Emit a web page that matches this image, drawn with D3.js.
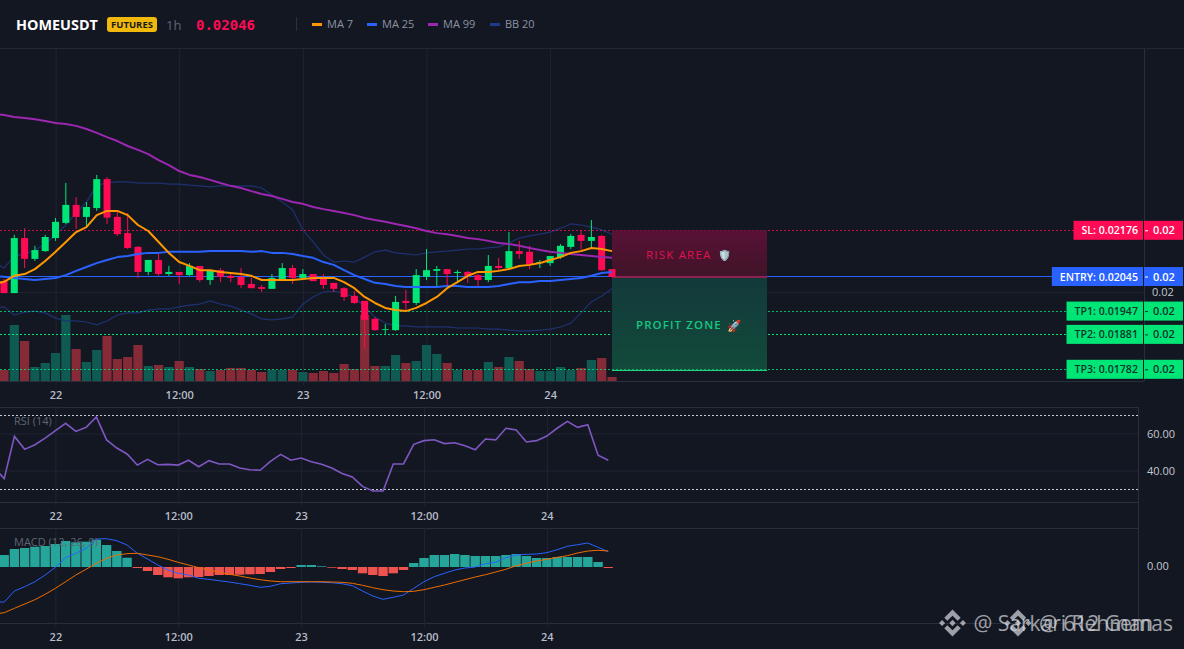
<!DOCTYPE html>
<html>
<head>
<meta charset="utf-8">
<script src="https://cdn.jsdelivr.net/npm/d3@7"></script>
<style>
html, body { margin: 0; padding: 0; background: #131722; overflow: hidden; }
svg { display: block; }
text { font-family: "Open Sans", "Noto Sans", sans-serif; }
</style>
</head>
<body>
<div id="chart"></div>
<script>
// candles, one per hour
var opens = [0.02032,0.01998,0.02154,0.02095,0.02117,0.02154,0.02197,0.02248,0.02214,0.02239,
0.02321,0.02214,0.02168,0.02129,0.02058,0.02092,0.02052,0.02058,0.02049,0.02075,
0.02035,0.02063,0.02047,0.02044,0.02024,0.02015,0.02010,0.02038,0.02069,0.02041,
0.02052,0.02038,0.02027,0.02012,0.01990,0.01976,0.01925,0.01895,0.01893,0.01976,
0.01970,0.02044,0.02061,0.02066,0.02055,0.02058,0.02049,0.02035,0.02075,0.02069,
0.02117,0.02115,0.02083,0.02083,0.02100,0.02129,0.02163,0.02146,0.02160,0.02066];
var closes = [0.01998,0.02154,0.02095,0.02120,0.02157,0.02200,0.02248,0.02214,0.02242,0.02321,
0.02212,0.02165,0.02126,0.02058,0.02092,0.02052,0.02058,0.02049,0.02075,0.02035,
0.02061,0.02044,0.02041,0.02021,0.02012,0.02010,0.02041,0.02069,0.02041,0.02052,
0.02032,0.02021,0.02010,0.01987,0.01970,0.01922,0.01893,0.01896,0.01973,0.01970,
0.02049,0.02063,0.02066,0.02052,0.02058,0.02047,0.02035,0.02075,0.02069,0.02117,
0.02109,0.02080,0.02086,0.02103,0.02132,0.02160,0.02146,0.02157,0.02063,0.02044];
var highs = [0.02038,0.02163,0.02182,0.02132,0.02163,0.02211,0.02310,0.02270,0.02256,0.02333,
0.02327,0.02228,0.02225,0.02132,0.02092,0.02109,0.02075,0.02058,0.02083,0.02075,
0.02063,0.02069,0.02055,0.02069,0.02041,0.02021,0.02052,0.02083,0.02078,0.02066,
0.02052,0.02052,0.02027,0.02015,0.02004,0.01976,0.01930,0.01910,0.01990,0.02007,
0.02066,0.02123,0.02075,0.02066,0.02063,0.02061,0.02052,0.02106,0.02098,0.02171,
0.02146,0.02132,0.02092,0.02103,0.02137,0.02165,0.02177,0.02205,0.02163,0.02066];
var lows = [0.01998,0.01998,0.02069,0.02089,0.02115,0.02146,0.02194,0.02180,0.02188,0.02231,
0.02194,0.02160,0.02123,0.02041,0.02049,0.02047,0.02047,0.02024,0.02047,0.02029,
0.02021,0.02029,0.02029,0.02012,0.02012,0.02001,0.02010,0.02038,0.02024,0.02038,
0.02032,0.02010,0.02001,0.01976,0.01967,0.01842,0.01891,0.01879,0.01891,0.01950,
0.01964,0.02035,0.02015,0.02015,0.02027,0.02027,0.02018,0.02029,0.02061,0.02066,
0.02095,0.02066,0.02069,0.02075,0.02095,0.02123,0.02120,0.02126,0.02061,0.02044];
// volume in thousands
var volumes = [11,56,40,14,18,28,66,32,19,31,45,22,24,36,15,16,14,20,14,12,
10,11,13,13,11,9,11,11,11,9,8,10,8,17,12,66,15,15,26,18,
20,36,27,18,11,11,11,19,14,24,20,12,10,10,14,11,13,21,23,4];

// the indicator lists start one hour before the first candle, so they run off the left edge
var ma7 = [0.02024,0.02030,0.02047,0.02052,0.02066,0.02089,0.02115,0.02143,0.02171,0.02185,0.02219,
0.02231,0.02231,0.02219,0.02191,0.02174,0.02143,0.02112,0.02086,0.02075,0.02063,
0.02063,0.02058,0.02055,0.02052,0.02047,0.02035,0.02035,0.02035,0.02035,0.02038,
0.02041,0.02041,0.02041,0.02029,0.02012,0.01987,0.01970,0.01956,0.01950,0.01947,
0.01956,0.01970,0.01987,0.02012,0.02029,0.02047,0.02058,0.02058,0.02061,0.02066,
0.02075,0.02078,0.02083,0.02092,0.02100,0.02112,0.02117,0.02126,0.02123,0.02117];
var ma25 = [0.02047,0.02044,0.02041,0.02038,0.02035,0.02038,0.02041,0.02049,0.02061,0.02072,0.02083,
0.02092,0.02100,0.02103,0.02109,0.02112,0.02112,0.02115,0.02115,0.02115,0.02115,
0.02117,0.02117,0.02117,0.02117,0.02115,0.02117,0.02112,0.02112,0.02109,0.02103,
0.02098,0.02086,0.02078,0.02063,0.02049,0.02038,0.02027,0.02024,0.02018,0.02015,
0.02015,0.02015,0.02015,0.02018,0.02018,0.02015,0.02015,0.02015,0.02018,0.02024,
0.02029,0.02029,0.02032,0.02032,0.02035,0.02038,0.02041,0.02047,0.02055,0.02058];
var ma99 = [0.02506,0.02503,0.02497,0.02494,0.02491,0.02486,0.02480,0.02477,0.02472,0.02463,0.02452,
0.02440,0.02429,0.02415,0.02404,0.02392,0.02375,0.02361,0.02344,0.02333,0.02327,
0.02319,0.02310,0.02302,0.02296,0.02287,0.02279,0.02273,0.02265,0.02256,0.02251,
0.02242,0.02236,0.02231,0.02225,0.02219,0.02211,0.02205,0.02200,0.02194,0.02188,
0.02182,0.02174,0.02168,0.02165,0.02160,0.02154,0.02151,0.02146,0.02140,0.02137,
0.02132,0.02126,0.02120,0.02115,0.02112,0.02109,0.02106,0.02103,0.02100,0.02098];
var bbUpper = [0.02086,0.02069,0.02103,0.02109,0.02120,0.02137,0.02163,0.02191,0.02225,0.02256,0.02304,
0.02310,0.02313,0.02313,0.02310,0.02310,0.02310,0.02307,0.02307,0.02304,0.02302,
0.02299,0.02302,0.02302,0.02302,0.02302,0.02296,0.02276,0.02256,0.02234,0.02177,
0.02143,0.02106,0.02086,0.02089,0.02086,0.02100,0.02115,0.02120,0.02112,0.02109,
0.02106,0.02112,0.02115,0.02117,0.02120,0.02123,0.02123,0.02126,0.02129,0.02140,
0.02154,0.02160,0.02165,0.02171,0.02182,0.02194,0.02191,0.02185,0.02177,0.02165];
var bbLower = [0.01956,0.01959,0.01936,0.01944,0.01947,0.01942,0.01927,0.01919,0.01919,0.01916,0.01908,
0.01919,0.01936,0.01942,0.01942,0.01950,0.01953,0.01953,0.01959,0.01964,0.01967,
0.01976,0.01967,0.01961,0.01950,0.01939,0.01925,0.01922,0.01925,0.01930,0.01967,
0.01987,0.02001,0.02004,0.01998,0.01987,0.01959,0.01930,0.01913,0.01905,0.01905,
0.01902,0.01902,0.01902,0.01902,0.01899,0.01899,0.01899,0.01896,0.01896,0.01893,
0.01891,0.01891,0.01893,0.01896,0.01902,0.01913,0.01942,0.01973,0.01990,0.02010];

var rsi = [42,35.9,58.7,51.7,54.2,57.8,61.8,65.8,61.4,63.6,69.2,56.8,52.4,49.2,43.2,46.3,43.4,43.6,43.2,45.8,42.3,
45.6,43.8,43.8,41.6,40.7,40.4,45.2,49.0,45.8,47.0,45.0,43.6,41.6,38.7,36.8,31.7,29.2,29.2,43.8,43.8,
54.4,56.4,56.9,54.8,55.3,53.7,51.5,57.3,56.8,63.1,62.2,55.7,56.4,58.9,63.1,66.8,63.6,65.0,48.5,45.8];

// macd values in 1e-5 of price
var macdHist = [12,18,19,20.3,21,23,26,24.7,25.3,27.3,22,16,9.3,-1,-4,-8,-10.3,-11.3,-10.3,-10,
-9,-8,-8,-7.7,-7.3,-7,-5,-2,-1,2,2,0.7,-0.7,-2,-3,-6.3,-8,-9,-6.3,-3,
4,9,12,12,13,12,11,11,11,12,13,11,9,9,10,10,10,10,5,-1];
var macdLine = [-35,-35,-24,-19.7,-14.7,-8,-0.3,9.3,13.7,18.7,28,28.3,26.3,22,13.7,8,2,-3,-6.3,-8,-11.3,
-12.3,-13.7,-15,-16.7,-18.3,-20.3,-19.3,-16.7,-16,-15.3,-15,-15.3,-15.7,-16.7,-18.7,-24,-29,-32.3,-30.3,-28,
-21.3,-14.7,-9.7,-6.3,-3,-1,0,3.3,4.7,9.3,12,12.7,13,14.3,17.3,20.7,22.3,24,19.7,15.3];
var macdSignal = [-47,-45.7,-41.3,-37,-32.7,-27.3,-21.3,-14.7,-8,-2.3,3.7,8.7,12,13.3,13.7,12,10.3,7.7,4.7,2,-0.7,
-3,-5.3,-7.3,-9,-11,-12.7,-14,-14.7,-14.7,-14.7,-14.7,-14.7,-15,-15.3,-16.3,-18.3,-20.7,-22.7,-24,-24.7,
-24.3,-22.7,-20.3,-18,-15.3,-12.7,-10,-7.7,-5,-2.3,1.3,3.7,6,7.7,9.7,11.3,14,16,16.7,16];

var timeTicks = [5,17,29,41,53];
var timeLabels = ["22","12:00","23","12:00","24"];
var levelNames = ["SL","ENTRY","TP1","TP2","TP3"];
var levelPrices = [0.02176,0.02045,0.01947,0.01881,0.01782];
var legendNames = ["MA 7","MA 25","MA 99","BB 20"];

var width = 1184, height = 649;
var red = "#ff0a54", green = "#00e676", blue = "#2962ff", gridColor = "#212531";
var idx = d3.range(opens.length);

var svg = d3.select("#chart").append("svg")
  .attr("width", width)
  .attr("height", height);

var defs = svg.append("defs");
function gradient(id, top, bottom) {
  var g = defs.append("linearGradient").attr("id", id).attr("x1", 0).attr("x2", 0).attr("y1", 0).attr("y2", 1);
  g.append("stop").attr("offset", "0%").attr("stop-color", top);
  g.append("stop").attr("offset", "100%").attr("stop-color", bottom);
}
gradient("riskFill", "#5a1135", "#3f1428");
gradient("profitFill", "#13393a", "#124a3b");

// scales
var xMain = d3.scaleLinear().domain([0, 59]).range([4, 612]);
var xLow = d3.scaleLinear().domain([0, 59]).range([4.2, 608.3]);
var yPrice = d3.scaleLinear().domain([0.02176, 0.01782]).range([230.3, 369.3]);
var yVol = d3.scaleLinear().domain([0, 66]).range([381, 315]);
var yRsi = d3.scaleLinear().domain([40, 60]).range([471, 434]);
var yMacd = d3.scaleLinear().domain([0, 39]).range([567, 528]);

// header
svg.append("line").attr("x1", 0).attr("x2", width).attr("y1", 48.5).attr("y2", 48.5).attr("stroke", "#23272f");
svg.append("text").attr("x", 16).attr("y", 29.5).text("HOMEUSDT")
  .attr("fill", "#fff").style("font-size", "14.4px").style("font-weight", 700);
svg.append("rect").attr("x", 107).attr("y", 17).attr("width", 50).attr("height", 15).attr("rx", 3).attr("fill", "#f0b90b");
svg.append("text").attr("x", 132).attr("y", 28).text("FUTURES").attr("text-anchor", "middle")
  .attr("fill", "#1a1a1a").style("font-size", "9.5px").style("font-weight", 700);
svg.append("text").attr("x", 166).attr("y", 29.5).text("1h").attr("fill", "#5b6678").style("font-size", "13px");
svg.append("text").attr("x", 196).attr("y", 29.5).text("0.02046").attr("fill", red)
  .style("font-family", "'DejaVu Sans Mono'").style("font-size", "14px").style("font-weight", 700);
svg.append("line").attr("x1", 296.5).attr("x2", 296.5).attr("y1", 17).attr("y2", 31).attr("stroke", "#2b3039");

var legendColors = ["#ff9800", blue, "#9c27b0", "#1e3a8a"];
var legendX = [312, 367, 428, 490];
legendNames.forEach(function(name, i) {
  svg.append("rect").attr("x", legendX[i]).attr("y", 23).attr("width", 10).attr("height", 3).attr("fill", legendColors[i]);
  svg.append("text").attr("x", legendX[i] + 15).attr("y", 28).text(name)
    .attr("fill", "#8b93a5").style("font-size", "11px");
});

// pane frames
[[381.5, 1144], [407.5, 1138], [502.5, 1138], [528.5, 1138], [623.5, 1138]].forEach(function(d) {
  svg.append("line").attr("x1", 0).attr("x2", d[1]).attr("y1", d[0]).attr("y2", d[0]).attr("stroke", "#2a2e39");
});
svg.append("line").attr("x1", 1144.5).attr("x2", 1144.5).attr("y1", 49).attr("y2", 381).attr("stroke", "#2a2e39");
svg.append("line").attr("x1", 1138.5).attr("x2", 1138.5).attr("y1", 407).attr("y2", 624).attr("stroke", "#2a2e39");

function timeAxis(scale, y, gridTop) {
  var g = svg.append("g")
    .attr("transform", "translate(0," + y + ")")
    .call(d3.axisBottom(scale).tickValues(timeTicks).tickFormat(function(d, i) { return timeLabels[i]; }).tickSize(gridTop - y + 4).tickPadding(8));
  g.select(".domain").remove();
  g.selectAll("line").attr("y1", gridTop - y).attr("y2", 4).attr("stroke", gridColor);
  g.selectAll("text").attr("y", 14).attr("dy", "0.35em").attr("fill", "#b7bcc7")
    .style("font-size", "11px").style("font-weight", 600);
}
timeAxis(xMain, 381, 49);
timeAxis(xLow, 502, 407);
timeAxis(xLow, 623, 528);

// main pane
svg.append("line").attr("x1", 0).attr("x2", 1144).attr("y1", yPrice(0.02)).attr("y2", yPrice(0.02)).attr("stroke", gridColor);
svg.append("text").attr("x", 1152).attr("y", yPrice(0.02) + 4).text("0.02").attr("fill", "#c3c7cf").style("font-size", "11px");

svg.append("g").selectAll("rect").data(idx).join("rect")
  .attr("x", function(i) { return xMain(i) - 4.6; })
  .attr("width", 9.2)
  .attr("y", function(i) { return yVol(volumes[i]); })
  .attr("height", function(i) { return yVol(0) - yVol(volumes[i]); })
  .attr("fill", function(i) { return closes[i] >= opens[i] ? "#0f5a52" : "#862a37"; });

function priceLine(values, color, w) {
  var line = d3.line().x(function(d, i) { return xMain(i - 1); }).y(function(d) { return yPrice(d); });
  svg.append("path").datum(values).attr("d", line).attr("fill", "none")
    .attr("stroke", color).attr("stroke-width", w).attr("stroke-linejoin", "round");
}
priceLine(bbUpper, "#1e3272", 1.2);
priceLine(bbLower, "#1e3272", 1.2);

// level lines
levelNames.forEach(function(name, i) {
  var l = svg.append("line").attr("x1", 0).attr("x2", 1080);
  if (name == "ENTRY") {
    var yE = Math.floor(yPrice(levelPrices[i])) + 0.5;
    l.attr("y1", yE).attr("y2", yE).attr("stroke", blue).attr("stroke-width", 1);
  } else {
    var y = Math.round(yPrice(levelPrices[i])) + 0.5;
    l.attr("y1", y).attr("y2", y).attr("stroke", name == "SL" ? red : "#00e676").attr("stroke-dasharray", "2,2")
      .attr("stroke-width", 1).attr("opacity", name == "TP2" ? 1 : 0.8);
  }
});

// risk and profit boxes
var yEntry = yPrice(levelPrices[1]);
svg.append("rect").attr("x", 612).attr("width", 155).attr("y", yPrice(levelPrices[0])).attr("height", yEntry - yPrice(levelPrices[0]))
  .attr("fill", "url(#riskFill)");
svg.append("rect").attr("x", 612).attr("width", 155).attr("y", yEntry).attr("height", yPrice(levelPrices[4]) - yEntry)
  .attr("fill", "url(#profitFill)");
svg.append("line").attr("x1", 612).attr("x2", 767).attr("y1", yEntry + 0.5).attr("y2", yEntry + 0.5).attr("stroke", red);
svg.append("line").attr("x1", 612).attr("x2", 767).attr("y1", yPrice(levelPrices[4]) + 1).attr("y2", yPrice(levelPrices[4]) + 1)
  .attr("stroke", "#1fd37f").attr("stroke-width", 1.2);
svg.append("text").attr("x", 646).attr("y", 259).text("RISK AREA").attr("fill", "#e0124f")
  .style("font-size", "11.5px").style("letter-spacing", "1.2px");
svg.append("text").attr("x", 718).attr("y", 259).text("\u{1F6E1}\uFE0F").attr("fill", "#4a9be8").style("font-size", "10.5px");
svg.append("text").attr("x", 636).attr("y", 329).text("PROFIT ZONE").attr("fill", "#16c784")
  .style("font-size", "11.5px").style("font-weight", 600).style("letter-spacing", "1.1px");
svg.append("text").attr("x", 727).attr("y", 329.5).text("\u{1F680}").attr("fill", "#e0e0e0").style("font-size", "11.5px");

// candles
var candles = svg.append("g").selectAll("g").data(idx).join("g")
  .attr("fill", function(i) { return closes[i] >= opens[i] ? green : red; })
  .attr("stroke", function(i) { return closes[i] >= opens[i] ? green : red; });
candles.append("line")
  .attr("x1", function(i) { return xMain(i); })
  .attr("x2", function(i) { return xMain(i); })
  .attr("y1", function(i) { return yPrice(highs[i]); })
  .attr("y2", function(i) { return yPrice(lows[i]); })
  .attr("stroke-width", 1);
candles.append("rect")
  .attr("x", function(i) { return xMain(i) - 3.5; })
  .attr("width", 7)
  .attr("y", function(i) { return yPrice(Math.max(opens[i], closes[i])); })
  .attr("height", function(i) { return Math.max(0.8, Math.abs(yPrice(opens[i]) - yPrice(closes[i]))); })
  .attr("stroke", "none");

priceLine(ma99, "#9c27b0", 2);
priceLine(ma25, blue, 2);
priceLine(ma7, "#ff9800", 2);

// level tags on the price axis
levelNames.forEach(function(name, i) {
  var y = yPrice(levelPrices[i]);
  var bg = name == "SL" ? red : (name == "ENTRY" ? blue : green);
  var fg = (name == "SL" || name == "ENTRY") ? "#fff" : "#10332a";
  var t = svg.append("text").attr("x", 1138).attr("y", y + 4)
    .attr("text-anchor", "end").attr("fill", fg).style("font-size", "10.6px").style("font-weight", 600)
    .text(name + ": " + levelPrices[i].toFixed(5));
  var w = t.node().getComputedTextLength();
  svg.insert("rect", function() { return t.node(); })
    .attr("x", 1143 - w - 13).attr("width", w + 13).attr("y", y - 9.5).attr("height", 19).attr("fill", bg);
  svg.insert("rect", function() { return t.node(); })
    .attr("x", 1144).attr("width", 39).attr("y", y - 9.5).attr("height", 19).attr("fill", bg);
  svg.append("line").attr("x1", 1145).attr("x2", 1148).attr("y1", y + 0.5).attr("y2", y + 0.5).attr("stroke", fg);
  svg.append("text").attr("x", 1153).attr("y", y + 4).attr("fill", fg).style("font-size", "11px").style("font-weight", 600).text("0.02");
});

// rsi pane
var rsiAxis = svg.append("g").attr("transform", "translate(1138,0)")
  .call(d3.axisRight(yRsi).tickValues([40, 60]).tickFormat(d3.format(".2f")).tickSize(0).tickPadding(9));
rsiAxis.select(".domain").remove();
rsiAxis.selectAll("text").attr("fill", "#c3c7cf").style("font-size", "11px");
[40, 60].forEach(function(v) {
  svg.append("line").attr("x1", 0).attr("x2", 1138).attr("y1", yRsi(v)).attr("y2", yRsi(v)).attr("stroke", gridColor);
});
[30, 70].forEach(function(v) {
  svg.append("line").attr("x1", 0).attr("x2", 1138).attr("y1", yRsi(v)).attr("y2", yRsi(v))
    .attr("stroke", "#c9ccd3").attr("stroke-dasharray", "2,2");
});
svg.append("path").datum(rsi)
  .attr("d", d3.line().x(function(d, i) { return xLow(i - 1); }).y(function(d) { return yRsi(d); }))
  .attr("fill", "none").attr("stroke", "#7e57c2").attr("stroke-width", 1.6);
svg.append("text").attr("x", 14).attr("y", 425).text("RSI (14)").attr("fill", "#5f6572").style("font-size", "11px");

// macd pane
var macdAxis = svg.append("g").attr("transform", "translate(1138,-1)")
  .call(d3.axisRight(yMacd).tickValues([0]).tickFormat(function() { return "0.00"; }).tickSize(0).tickPadding(9));
macdAxis.select(".domain").remove();
macdAxis.selectAll("text").attr("fill", "#c3c7cf").style("font-size", "11px");
svg.append("g").selectAll("rect").data(idx).join("rect")
  .attr("x", function(i) { return xLow(i) - 4.7; })
  .attr("width", 9.4)
  .attr("y", function(i) { return yMacd(Math.max(0, macdHist[i])); })
  .attr("height", function(i) { return Math.abs(yMacd(macdHist[i]) - yMacd(0)); })
  .attr("fill", function(i) { return macdHist[i] >= 0 ? "#26a69a" : "#ef5350"; });
var macdPath = d3.line().x(function(d, i) { return xLow(i - 1); }).y(function(d) { return yMacd(d); });
svg.append("path").datum(macdLine).attr("d", macdPath).attr("fill", "none").attr("stroke", blue).attr("stroke-width", 1);
svg.append("path").datum(macdSignal).attr("d", macdPath).attr("fill", "none").attr("stroke", "#ef6c00").attr("stroke-width", 1);
svg.append("text").attr("x", 14).attr("y", 546).text("MACD (12, 26, 9)").attr("fill", "#5f6572").style("font-size", "11px");

// watermark, two copies laid over each other
var binanceMark = "M7.4 10.1 12 5.5l4.6 4.6 2.7-2.7L12 0 4.7 7.4zM0 12l2.7-2.7L5.4 12l-2.7 2.7zM7.4 13.9 12 18.5l4.6-4.6 2.7 2.7L12 24l-7.3-7.4zM18.6 12l2.7-2.7L24 12l-2.7 2.7zM14.8 12 12 9.2 9.2 12 12 14.8z";
function watermark(x, label) {
  var g = svg.append("g").attr("transform", "translate(" + x + ",623)").attr("fill", "#d8dade").attr("opacity", 0.7);
  g.append("path").attr("d", binanceMark).attr("transform", "translate(-13.5,-13.5) scale(1.125)");
  g.append("text").attr("x", 21).attr("y", 8).text(label).style("font-size", "21px");
}
watermark(952.5, "@ Sarkari Rehman");
watermark(1018, "@ 612 Gemas");
</script>
</body>
</html>
